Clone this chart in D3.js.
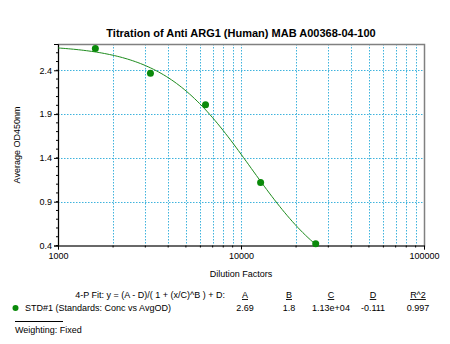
<!DOCTYPE html>
<html><head><meta charset="utf-8">
<script src="https://cdn.jsdelivr.net/npm/d3@7/dist/d3.min.js"></script>
<style>body{margin:0;background:#fff}text{font-family:"Liberation Sans",Arial,sans-serif}</style>
</head><body><svg id="c" width="450" height="344"></svg>
<script>
const dilution = [1600, 3200, 6400, 12800, 25600];
const avgOD = [2.65, 2.366, 2.008, 1.118, 0.42];
const fitNames = ["A", "B", "C", "D", "R^2"];
const fitLabels = ["2.69", "1.8", "1.13e+04", "-0.111", "0.997"];
const fitParams = {A: 2.69, B: 1.8, C: 11300, D: -0.111};
const yTicks = [0.4, 0.9, 1.4, 1.9, 2.4];
const xTickLabels = [1000, 10000, 100000];

const svg = d3.select("#c");
const L = 58, R = 424, T = 44, B = 245.5;
const x = d3.scaleLog().domain([1000, 100000]).range([L, R]);
const y = d3.scaleLinear().domain([0.4, 2.7]).range([B, T]);

svg.append("rect").attr("x", L).attr("y", T).attr("width", R - L).attr("height", B - T).attr("fill", "#fff");

// grid
const xMinor = [];
for (let d = 1000; d < 100000; d *= 10) for (let k = 2; k <= 9; k++) xMinor.push(d * k);
const gridX = xMinor.concat([10000]);
svg.append("g").selectAll("line").data(gridX).join("line")
  .attr("x1", d => Math.round(x(d)) + 0.5).attr("x2", d => Math.round(x(d)) + 0.5)
  .attr("y1", T).attr("y2", B)
  .attr("stroke", "#3fb3dd").attr("stroke-width", 1).attr("stroke-dasharray", "1.5,1.5");
svg.append("g").selectAll("line").data(yTicks.slice(1)).join("line")
  .attr("x1", L).attr("x2", R)
  .attr("y1", d => Math.round(y(d)) + 0.5).attr("y2", d => Math.round(y(d)) + 0.5)
  .attr("stroke", "#3fb3dd").attr("stroke-width", 1).attr("stroke-dasharray", "1.5,1.5");

// frame
svg.append("rect").attr("x", L + 0.5).attr("y", T + 0.5).attr("width", R - L).attr("height", B - T)
  .attr("fill", "none").attr("stroke", "#808080").attr("stroke-width", 1.5);

// axes
const yMinor = d3.range(4, 27).map(v => v / 10);
const yAxis = d3.axisLeft(y).tickValues(yTicks).tickFormat(d3.format(".1f")).tickSize(4).tickPadding(2);
const gy = svg.append("g").attr("transform", `translate(${L},0)`).call(yAxis);
gy.append("g").selectAll("line").data(yMinor).join("line")
  .attr("x1", -2).attr("x2", 0).attr("y1", d => y(d)).attr("y2", d => y(d)).attr("stroke", "#000");
gy.select(".domain").attr("stroke", "#000");
const xAxis = d3.axisBottom(x).tickValues(xTickLabels).tickFormat(d3.format("d")).tickSize(4).tickPadding(3);
const gx = svg.append("g").attr("transform", `translate(0,${B})`).call(xAxis);
gx.append("g").selectAll("line").data(xMinor).join("line")
  .attr("x1", d => x(d)).attr("x2", d => x(d)).attr("y1", 0).attr("y2", 2).attr("stroke", "#000");
gx.select(".domain").attr("stroke", "#333");
svg.selectAll(".tick text").attr("font-size", 9).attr("fill", "#000").attr("font-family", "Liberation Sans, Arial, sans-serif");

// fit curve from displayed 4-P parameters
const fit = v => (fitParams.A - fitParams.D) / (1 + Math.pow(v / fitParams.C, fitParams.B)) + fitParams.D;
const curveX = d3.range(0, 101).map(i => Math.pow(10, 3 + i / 100 * Math.log10(dilution[dilution.length - 1] / 1000)));
svg.append("path").datum(curveX)
  .attr("d", d3.line().x(d => x(d)).y(d => y(fit(d))))
  .attr("fill", "none").attr("stroke", "#1e8c1e").attr("stroke-width", 1);

svg.append("g").selectAll("circle").data(dilution).join("circle")
  .attr("cx", d => x(d)).attr("cy", (d, i) => y(avgOD[i])).attr("r", 3.5).attr("fill", "#0a8a0a");

// titles
svg.append("text").attr("x", 241).attr("y", 37).attr("text-anchor", "middle")
  .attr("font-size", 11).attr("font-weight", "bold").text("Titration of Anti ARG1 (Human) MAB A00368-04-100");
svg.append("text").attr("x", 241).attr("y", 277).attr("text-anchor", "middle")
  .attr("font-size", 9).text("Dilution Factors");
svg.append("text").attr("transform", "translate(20,145) rotate(-90)").attr("text-anchor", "middle")
  .attr("font-size", 9).text("Average OD450nm");

// legend
svg.append("text").attr("x", 225).attr("y", 298).attr("text-anchor", "end").attr("font-size", 9)
  .text("4-P Fit: y = (A - D)/( 1 + (x/C)^B ) + D:");
const colX = [245, 289, 331, 373, 418];
fitNames.forEach((n, i) => {
  const t = svg.append("text").attr("x", colX[i]).attr("y", 298).attr("text-anchor", "middle")
    .attr("font-size", 9).attr("text-decoration", "underline").text(n);
  svg.append("text").attr("x", colX[i]).attr("y", 311).attr("text-anchor", "middle")
    .attr("font-size", 9).text(fitLabels[i]);
});
svg.append("circle").attr("cx", 15.5).attr("cy", 308).attr("r", 3).attr("fill", "#0a8a0a");
svg.append("text").attr("x", 25).attr("y", 311).attr("font-size", 9).text("STD#1 (Standards: Conc vs AvgOD)");
svg.append("line").attr("x1", 15).attr("x2", 63).attr("y1", 321.5).attr("y2", 321.5).attr("stroke", "#000");
svg.append("text").attr("x", 15).attr("y", 333).attr("font-size", 9).text("Weighting: Fixed");
</script></body></html>
